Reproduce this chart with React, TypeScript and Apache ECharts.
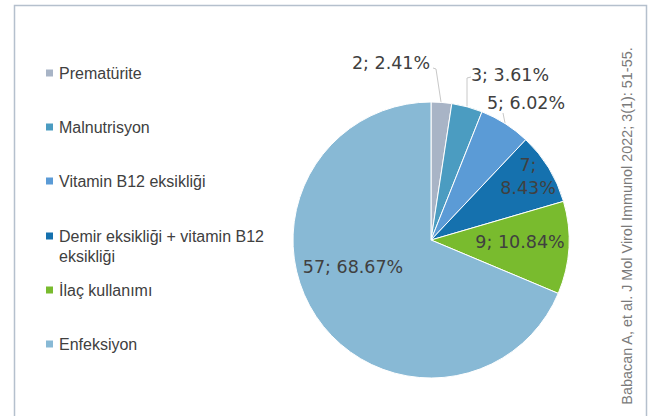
import React, { useEffect, useRef } from "react";
import * as echarts from "echarts";

const categories = [
  "Prematürite",
  "Malnutrisyon",
  "Vitamin B12 eksikliği",
  "Demir eksikliği + vitamin B12 eksikliği",
  "İlaç kullanımı",
  "Enfeksiyon",
];
const values = [2, 3, 5, 7, 9, 57];
const colors = ["#a8b4c6", "#4b9cc1", "#5b9bd6", "#1571ae", "#79bb2e", "#88b9d5"];
const citation = "Babacan A, et al. J Mol Virol Immunol 2022; 3(1): 51-55.";

// layout constants
const CX = 431;
const CY = 240;
const R = 138;
const LEGEND_TEXT_Y = [73, 127, 181, 236, 290, 344];
// label centers relative to pie center
const LABEL_OFF: Array<[number, number]> = [
  [-40, -177],
  [79, -165],
  [95, -137],
  [97, -64],
  [89, 2],
  [-78, 27],
];
const LINE_PTS: Array<number[][] | null> = [
  [[433, 68], [436, 69], [441, 102]],
  [[471, 77], [467, 78], [467, 106]],
  [[503, 113], [505, 123]],
  null,
  null,
  null,
];

export default function App() {
  const ref = useRef<HTMLDivElement>(null);
  useEffect(() => {
    if (!ref.current) return;
    const chart = echarts.init(ref.current, null, { renderer: "svg" });
    const total = values.reduce((a, b) => a + b, 0);
    const legendFont = {
      fontFamily: "Liberation Sans, Arial, sans-serif",
      fontSize: 16,
      color: "#404040",
      lineHeight: 18,
    };
    const legends = categories.map((name, i) => {
      const isLong = i === 3;
      return {
        data: [name],
        orient: "vertical",
        left: 44,
        top: isLong ? LEGEND_TEXT_Y[i] - 30 : LEGEND_TEXT_Y[i] - 9,
        icon: "rect",
        itemWidth: 9,
        itemHeight: 9,
        itemGap: 5,
        padding: 0,
        selectedMode: false,
        formatter: (n: string) =>
          n === "Demir eksikliği + vitamin B12 eksikliği"
            ? "\nDemir eksikliği + vitamin B12\neksikliği"
            : n,
        textStyle: isLong ? { ...legendFont, lineHeight: 20 } : legendFont,
      };
    });

    chart.setOption({
      animation: false,
      color: colors,
      legend: legends,
      graphic: [
        {
          type: "rect",
          shape: { x: 14.5, y: 5.5, width: 632, height: 430 },
          style: { fill: "none", stroke: "#b5c0cd", lineWidth: 1.5 },
          silent: true,
        },
        {
          type: "text",
          x: 627,
          y: 226,
          rotation: Math.PI / 2,
          style: {
            text: citation,
            fontFamily: "Liberation Sans, Arial, sans-serif",
            fontSize: 14.4,
            fill: "#7a7a7a",
            align: "center",
            verticalAlign: "middle",
          },
        },
      ],
      series: [
        {
          type: "pie",
          center: [CX, CY],
          radius: R,
          startAngle: 90,
          clockwise: true,
          avoidLabelOverlap: false,
          itemStyle: { borderColor: "#ffffff", borderWidth: 1 },
          label: {
            show: true,
            fontFamily: "DejaVu Sans, sans-serif",
            fontSize: 17.5,
            lineHeight: 23,
            color: "#404040",
            formatter: (p: any) => {
              const pct = ((p.value / total) * 100).toFixed(2);
              return p.dataIndex === 3 ? `${p.value};\n${pct}%` : `${p.value}; ${pct}%`;
            },
          },
          labelLine: { show: true, lineStyle: { color: "#c8c8c8", width: 1 } },
          labelLayout: (params: any) => {
            const i = params.dataIndex;
            const o = LABEL_OFF[i];
            const res: any = {
              x: CX + o[0],
              y: CY + o[1],
              align: "center",
              verticalAlign: "middle",
            };
            if (LINE_PTS[i]) res.labelLinePoints = LINE_PTS[i];
            return res;
          },
          data: categories.map((name, i) => ({
            name,
            value: values[i],
            label: { position: i < 3 ? "outside" : "inside" },
            labelLine: { show: i < 3 },
          })),
        },
      ],
    });
    return () => chart.dispose();
  }, []);
  return (
    <div
      ref={ref}
      style={{ position: "fixed", left: 0, top: 0, width: 656, height: 416, background: "#fff" }}
    />
  );
}
